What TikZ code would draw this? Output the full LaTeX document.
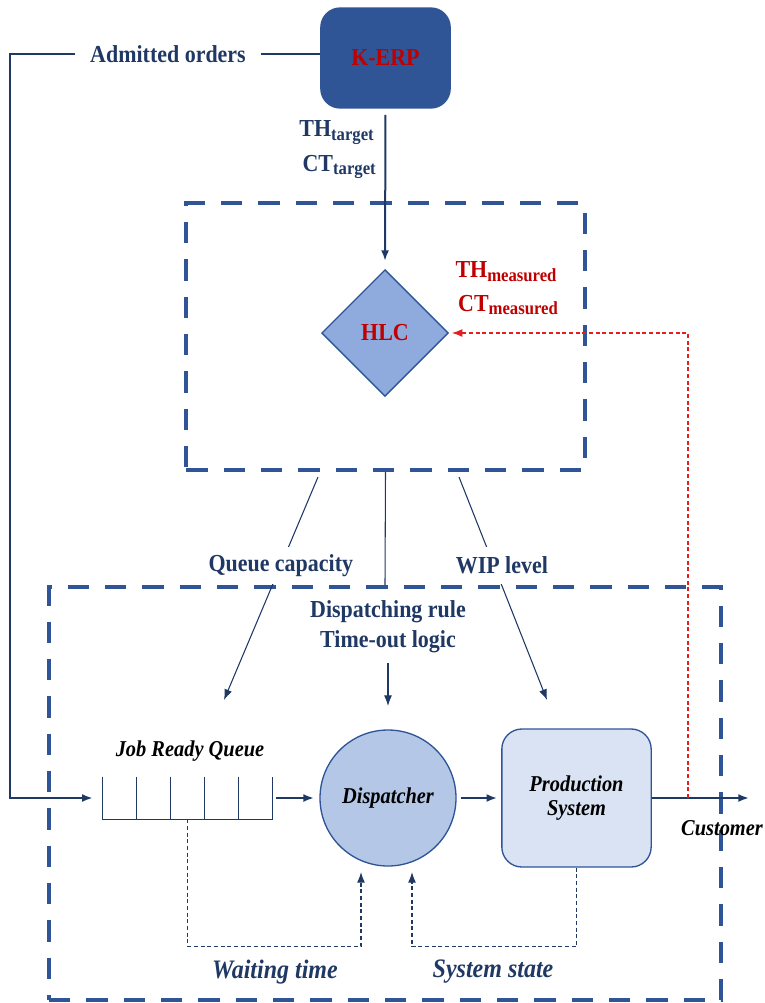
\documentclass[tikz,border=0pt]{standalone}
\usepackage{fontspec}
\setmainfont{Liberation Serif}[FakeStretch=0.9]
\usepackage{xcolor}
\usepackage{tikz}
\usetikzlibrary{arrows.meta,shapes.geometric,calc}

\definecolor{navy}{HTML}{1F3864}
\definecolor{boxblue}{HTML}{2F5597}
\definecolor{hlcblue}{HTML}{8FAADC}
\definecolor{dispblue}{HTML}{B4C7E7}
\definecolor{prodblue}{HTML}{DAE3F3}
\definecolor{darkred}{HTML}{C00000}
\definecolor{feedred}{HTML}{E41E1E}

\newcommand{\lowsub}[1]{\raisebox{-0.35ex}{\fontsize{13.9}{13.9}\selectfont #1}}

\begin{document}
\begin{tikzpicture}[x=0.75pt, y=-0.75pt,
        >={Latex[length=8pt,width=6pt]},
        font=\fontsize{18.3}{21}\selectfont\bfseries,
        flowline/.style={navy, line width=1.5pt},
        ctrlline/.style={navy, line width=0.8pt},
        fbline/.style={navy, line width=1pt, dash pattern=on 3pt off 2pt},
        zonebox/.style={draw=boxblue, line width=3pt, dash pattern=on 16pt off 12pt},
        tag/.style={text=navy, inner sep=0pt},
        slanttag/.style={inner sep=0pt, font=\fontsize{17}{17.5}\selectfont\bfseries\itshape},
        capnote/.style={tag, fill=white, minimum height=28pt}]
                \useasboundingbox (0,0) rectangle (764,1003);

                % Dashed zones
                \node[zonebox, minimum width=299pt, minimum height=200pt] (hlcbox) at (385.5,336.5) {};
                \node[zonebox, minimum width=504pt, minimum height=310pt] (shopbox) at (385,793.5) {};

                % K-ERP and admitted orders
                \node[fill=boxblue, rounded corners=15pt, minimum width=98pt, minimum height=76pt, text=darkred] (erp) at (385.5,58) {K-ERP};
                \node[tag, inner xsep=11pt] (admitted) at (168,54) {Admitted orders};
                \coordinate (ordercorner) at (10,54);
                \node[tag, anchor=east] (thtarget) at (374,133) {TH\lowsub{target}};
                \node[tag, anchor=east] (cttarget) at (376,167) {CT\lowsub{target}};

                % HLC
                \node[diamond, draw=boxblue, fill=hlcblue, line width=1pt, minimum width=95pt, minimum height=95pt, inner sep=0pt, text=darkred] (hlc) at (385,333) {HLC};
                \node[tag, text=darkred] (thmeas) at (506,272) {TH\lowsub{measured}};
                \node[tag, text=darkred] (ctmeas) at (508,305) {CT\lowsub{measured}};

                % Shop floor
                \node[slanttag] (jrqlabel) at (190,751) {Job Ready Queue};
                \node[minimum width=126.75pt, minimum height=31.5pt, inner sep=0pt] (queue) at (187.5,798) {};
                \node[circle, draw=boxblue, fill=dispblue, line width=1pt, minimum size=102pt, inner sep=0pt, slanttag] (disp) at (388,798) {Dispatcher};
                \node[draw=boxblue, fill=prodblue, rounded corners=15pt, line width=1pt, minimum width=112pt, minimum height=103.5pt, align=center, slanttag] (prod) at (576.5,798) {Production\\System};
                \node[slanttag] (customer) at (722,828) {Customer};
                \node[tag, align=center, font=\fontsize{18.3}{22.5}\selectfont\bfseries] (rules) at (388,627) {Dispatching rule\\Time-out logic};
                \node[slanttag, text=navy, font=\fontsize{20}{22}\selectfont\bfseries\itshape] (waitlabel) at (275,972) {Waiting time};
                \node[slanttag, text=navy, font=\fontsize{20}{22}\selectfont\bfseries\itshape] (statelabel) at (493,972) {System state};

                % Queue cells
                \draw[navy, line width=1.1pt] (queue.north west) -- (queue.south west) -- (queue.south east) -- (queue.north east);
                \foreach \i in {1,...,4}
                    \draw[navy, line width=1.1pt] ($(queue.north west)!\i/5!(queue.north east)$) -- ($(queue.south west)!\i/5!(queue.south east)$);

                % Order flow
                \draw[flowline] (admitted.east) -- (admitted.east -| erp.west);
                \draw[flowline, ->, shorten >=7.5pt] (admitted.west) -- (ordercorner) |- (queue.west);
                \draw[flowline, ->, shorten <=4.5pt, shorten >=6pt] (erp.south) -- (hlc.north);
                \draw[flowline, ->, shorten <=3pt, shorten >=4pt] (queue.east) -- (disp.west);
                \draw[flowline, ->, shorten <=3pt, shorten >=3pt] (disp.east) -- (prod.west);
                \coordinate (custout) at (749,798);
                \draw[flowline, ->] (prod.east) -- (custout);

                % Control signals from HLC
                \coordinate (capfrom) at (318,477);
                \coordinate (captip) at (224,700);
                \draw[ctrlline, ->] (capfrom) -- node[pos=0.396, capnote] {Queue capacity} (captip);
                \coordinate (wipfrom) at (459,477);
                \coordinate (wiptip) at (547,700);
                \draw[ctrlline, ->] (wipfrom) -- node[pos=0.396, capnote, xshift=6pt] {WIP level} (wiptip);
                \draw[ctrlline] (hlcbox.south) -- (shopbox.north);
                \coordinate (ruletip) at (388,706);
                \draw[ctrlline, ->, shorten <=7pt] (rules.south) -- (ruletip);

                % Feedback
                \coordinate (tap) at (688,798);
                \draw[feedred, line width=1.2pt, dash pattern=on 3pt off 2pt, ->, shorten >=2pt] (tap) |- (hlc.east);
                \coordinate (waitin) at (361,872);
                \draw[fbline, ->] (queue.south) -- ++(0,127) -| (waitin);
                \coordinate (statein) at (412,872);
                \draw[fbline, ->] (prod.south) -- ++(0,79) -| (statein);
\end{tikzpicture}
\end{document}
